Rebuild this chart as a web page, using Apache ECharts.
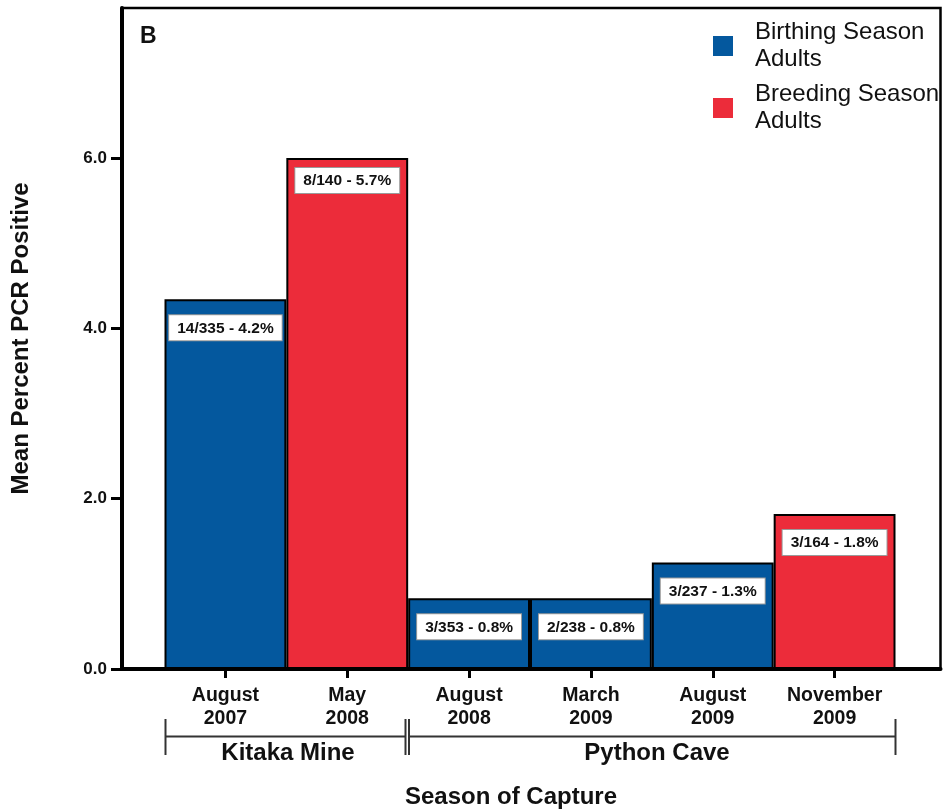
<!DOCTYPE html>
<html>
<head>
<meta charset="utf-8">
<script src="https://cdn.jsdelivr.net/npm/echarts@6/dist/echarts.min.js"></script>
<style>html,body{margin:0;padding:0;background:#fff;}#c{width:944px;height:812px;}</style>
</head>
<body>
<div id="c"></div>
<script>
const categories = ['August\n2007', 'May\n2008', 'August\n2008', 'March\n2009', 'August\n2009', 'November\n2009'];
const birthingValues = [4.34, null, 0.83, 0.83, 1.25, null];
const breedingValues = [null, 6.0, null, null, null, 1.82];
const barLabels = ['14/335 - 4.2%', '8/140 - 5.7%', '3/353 - 0.8%', '2/238 - 0.8%', '3/237 - 1.3%', '3/164 - 1.8%'];
const yTicks = [0, 2, 4, 6];
const seriesNames = ['Birthing Season\nAdults', 'Breeding Season\nAdults'];
const siteNames = ['Kitaka Mine', 'Python Cave'];

const BLUE = '#04589e';
const RED = '#ec2c3a';
const FONT = 'Liberation Sans, Arial, sans-serif';

const chart = echarts.init(document.getElementById('c'));

function mk(values) {
  return values.map((v, i) => v == null ? null : {
    value: v,
    label: { distance: i === 1 ? 10 : 16 }
  });
}

const labelStyle = {
  show: true,
  position: 'insideTop',
  formatter: p => barLabels[p.dataIndex],
  backgroundColor: '#fff',
  borderColor: '#9a9a9a',
  borderWidth: 1,
  padding: [5, 8, 4, 8],
  color: '#111',
  fontFamily: FONT,
  fontWeight: 'bold',
  fontSize: 15.5
};

const option = {
  animation: false,
  textStyle: { fontFamily: FONT },
  grid: [
    { left: 122, right: 3.5, top: 8, bottom: 143, show: true, borderColor: '#000', borderWidth: 2.5, backgroundColor: 'transparent' },
    { left: 164.5, right: 48.5, top: 8, bottom: 143 }
  ],
  legend: {
    orient: 'vertical',
    left: 713,
    top: 19,
    padding: 0,
    itemWidth: 20,
    itemHeight: 20,
    itemGap: 8,
    icon: 'rect',
    data: seriesNames,
    itemStyle: { borderWidth: 0 },
    textStyle: { fontSize: 24, lineHeight: 27, color: '#111', fontFamily: FONT, padding: [0, 0, 0, 17] },
    selectedMode: false
  },
  xAxis: [
    { gridIndex: 0, type: 'value', min: 0, max: 1, axisLine: { show: true, lineStyle: { color: '#000', width: 4 } }, axisTick: { show: false }, axisLabel: { show: false }, splitLine: { show: false } },
    { gridIndex: 1, type: 'category', data: categories,
      axisLine: { show: false },
      axisTick: { show: true, alignWithLabel: true, length: 9, lineStyle: { color: '#000', width: 3 } },
      axisLabel: { color: '#111', fontWeight: 'bold', fontSize: 19.5, lineHeight: 23, margin: 15, fontFamily: FONT, interval: 0 },
      boundaryGap: true
    }
  ],
  yAxis: [
    { gridIndex: 0, type: 'value', min: 0, max: 7.76, interval: 2,
      axisLine: { show: true, lineStyle: { color: '#000', width: 4 } },
      axisTick: { show: true, length: 11, customValues: yTicks, lineStyle: { color: '#000', width: 3 } },
      axisLabel: { show: true, customValues: yTicks, formatter: v => Number(v).toFixed(1), color: '#111', fontWeight: 'bold', fontSize: 17, margin: 15, fontFamily: FONT },
      splitLine: { show: false },
      name: 'Mean Percent PCR Positive',
      nameLocation: 'middle',
      nameGap: 89,
      nameTextStyle: { fontSize: 24, fontWeight: 'bold', color: '#111', fontFamily: FONT }
    },
    { gridIndex: 1, type: 'value', min: 0, max: 7.76, show: false }
  ],
  series: [
    { name: seriesNames[0], type: 'bar', xAxisIndex: 1, yAxisIndex: 1, data: mk(birthingValues), barWidth: '100%', barGap: '-100%',
      itemStyle: { color: BLUE, borderColor: '#000', borderWidth: 2 }, label: labelStyle },
    { name: seriesNames[1], type: 'bar', xAxisIndex: 1, yAxisIndex: 1, data: mk(breedingValues), barWidth: '100%', barGap: '-100%',
      itemStyle: { color: RED, borderColor: '#000', borderWidth: 2 }, label: labelStyle }
  ],
  graphic: [
    { type: 'text', left: 140, top: 25, style: { text: 'B', font: 'bold 23px ' + FONT, fill: '#111' } },
    { type: 'line', shape: { x1: 165.5, y1: 736.5, x2: 405.5, y2: 736.5 }, style: { stroke: '#333', lineWidth: 2 } },
    { type: 'line', shape: { x1: 165.5, y1: 719, x2: 165.5, y2: 755 }, style: { stroke: '#333', lineWidth: 2 } },
    { type: 'line', shape: { x1: 405.5, y1: 719, x2: 405.5, y2: 755 }, style: { stroke: '#333', lineWidth: 2 } },
    { type: 'line', shape: { x1: 409, y1: 719, x2: 409, y2: 755 }, style: { stroke: '#333', lineWidth: 2 } },
    { type: 'line', shape: { x1: 409, y1: 736.5, x2: 895.5, y2: 736.5 }, style: { stroke: '#333', lineWidth: 2 } },
    { type: 'line', shape: { x1: 895.5, y1: 719, x2: 895.5, y2: 755 }, style: { stroke: '#333', lineWidth: 2 } },
    { type: 'text', x: 288, y: 753, style: { text: siteNames[0], font: 'bold 24px ' + FONT, fill: '#111', align: 'center', verticalAlign: 'middle' } },
    { type: 'text', x: 657, y: 753, style: { text: siteNames[1], font: 'bold 24px ' + FONT, fill: '#111', align: 'center', verticalAlign: 'middle' } },
    { type: 'text', x: 511, y: 797, style: { text: 'Season of Capture', font: 'bold 24px ' + FONT, fill: '#111', align: 'center', verticalAlign: 'middle' } }
  ]
};
chart.setOption(option);
</script>
</body>
</html>
